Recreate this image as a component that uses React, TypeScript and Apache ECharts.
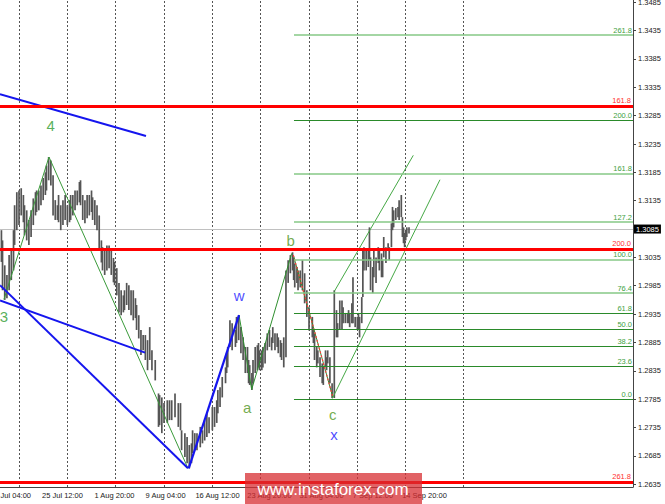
import React, { useEffect, useRef } from 'react';
import * as echarts from 'echarts';

// ---- axes ----
const X_MIN = -17.3;
const X_MAX = 558.9;
const Y_MIN = 1.263;
const Y_MAX = 1.3489;

const xLabels = ['18 Jul 04:00', '25 Jul 12:00', '1 Aug 20:00', '9 Aug 04:00', '16 Aug 12:00', '23 Aug 20:00', '31 Aug 04:00', '7 Sep 12:00', '14 Sep 20:00'];
const xLabelPos = [-7.7, 39.6, 86.9, 133.4, 180.7, 228.0, 275.4, 322.2, 369.1];
const gridPos = [0, 44, 88, 132, 176, 220, 264, 308, 352, 404];
const priceTicks = [1.2635, 1.2685, 1.2735, 1.2785, 1.2835, 1.2885, 1.2935, 1.2985, 1.3035, 1.3085, 1.3135, 1.3185, 1.3235, 1.3285, 1.3335, 1.3385, 1.3435, 1.3485];

// ---- price bars: [bar index (H4), low, high] ----
const bars = [
  [-16, 1.3027, 1.3083], [-15, 1.2977, 1.3065], [-13, 1.296, 1.3021], [-11, 1.2963, 1.3004], [-9, 1.2977, 1.3039],
  [-7, 1.2995, 1.3048], [-5, 1.3012, 1.3083], [-4, 1.3057, 1.3127], [-2, 1.3083, 1.315], [0, 1.3092, 1.3153],
  [2, 1.3109, 1.3157], [4, 1.3097, 1.3145], [5, 1.3074, 1.3127], [7, 1.3065, 1.3118], [9, 1.3057, 1.3101],
  [11, 1.3071, 1.3118], [13, 1.3092, 1.3139], [15, 1.3109, 1.315], [16, 1.3115, 1.3153], [18, 1.3118, 1.3153],
  [20, 1.3127, 1.3162], [22, 1.3136, 1.3175], [24, 1.3145, 1.3185], [25, 1.3153, 1.3197], [27, 1.3171, 1.3212],
  [29, 1.3162, 1.3206], [31, 1.3109, 1.318], [33, 1.3101, 1.3136], [35, 1.3101, 1.3127], [36, 1.3097, 1.3145],
  [38, 1.3083, 1.3127], [40, 1.3092, 1.3136], [42, 1.3101, 1.3145], [44, 1.3092, 1.3127], [46, 1.3097, 1.3136],
  [47, 1.3101, 1.3145], [49, 1.3109, 1.3145], [51, 1.3118, 1.3153], [53, 1.3127, 1.3153], [55, 1.3132, 1.3168],
  [56, 1.3127, 1.3171], [58, 1.3101, 1.3145], [60, 1.3095, 1.3136], [62, 1.3104, 1.3145], [64, 1.3109, 1.3145],
  [66, 1.3115, 1.3153], [67, 1.3101, 1.3141], [69, 1.3092, 1.3136], [71, 1.3083, 1.3127], [73, 1.3048, 1.3109],
  [75, 1.3026, 1.3065], [76, 1.3012, 1.3053], [78, 1.3004, 1.3048], [80, 1.3012, 1.3056], [82, 1.3016, 1.3056],
  [84, 1.3004, 1.3048], [86, 1.2991, 1.3034], [87, 1.2986, 1.3027], [89, 1.2968, 1.3016], [91, 1.2938, 1.299],
  [93, 1.2933, 1.2977], [95, 1.2938, 1.2968], [96, 1.2942, 1.2977], [98, 1.2951, 1.299], [100, 1.2942, 1.2986],
  [102, 1.2933, 1.2977], [104, 1.2924, 1.2977], [106, 1.2928, 1.2963], [107, 1.2907, 1.2951], [109, 1.2892, 1.2933],
  [111, 1.2863, 1.2907], [113, 1.2871, 1.2898], [115, 1.2854, 1.2898], [117, 1.2836, 1.2889], [119, 1.2854, 1.2912],
  [121, 1.2836, 1.2871], [124, 1.2818, 1.2854], [127, 1.2736, 1.2795], [128, 1.2739, 1.2792], [130, 1.2725, 1.2788],
  [132, 1.2743, 1.2778], [135, 1.2743, 1.2783], [137, 1.2748, 1.2783], [139, 1.2748, 1.2783], [142, 1.2753, 1.2795],
  [145, 1.2736, 1.2778], [147, 1.273, 1.2778], [148, 1.2695, 1.273], [151, 1.2683, 1.2725], [153, 1.2672, 1.2718],
  [155, 1.2663, 1.2704], [157, 1.2672, 1.2707], [158, 1.269, 1.273], [160, 1.2695, 1.2725], [162, 1.2695, 1.2725],
  [165, 1.27, 1.2736], [167, 1.2707, 1.273], [169, 1.2712, 1.2748], [171, 1.2718, 1.276], [173, 1.2725, 1.2753],
  [176, 1.273, 1.2771], [178, 1.2736, 1.2771], [180, 1.2743, 1.2783], [181, 1.276, 1.2801], [183, 1.2771, 1.2806],
  [185, 1.2788, 1.2824], [188, 1.2813, 1.2841], [189, 1.2831, 1.2866], [190, 1.2841, 1.2877], [192, 1.2877, 1.2924],
  [194, 1.2871, 1.2919], [197, 1.2877, 1.2907], [198, 1.2884, 1.293], [200, 1.2889, 1.2933], [202, 1.2866, 1.2912],
  [204, 1.2854, 1.2894], [206, 1.2831, 1.2877], [208, 1.2831, 1.2877], [209, 1.2813, 1.2854], [210, 1.281, 1.2845],
  [212, 1.2801, 1.2831], [213, 1.2813, 1.2854], [215, 1.2831, 1.2877], [217, 1.2836, 1.288], [218, 1.2841, 1.2884],
  [219, 1.2836, 1.2871], [221, 1.2836, 1.2871], [222, 1.2841, 1.2877], [224, 1.2848, 1.2884], [226, 1.2871, 1.2901],
  [228, 1.2877, 1.2907], [230, 1.2871, 1.2894], [231, 1.2884, 1.2912], [233, 1.2871, 1.2901], [235, 1.2877, 1.2901],
  [236, 1.2866, 1.2894], [238, 1.2859, 1.2889], [239, 1.2854, 1.2884], [241, 1.2841, 1.2894], [243, 1.2859, 1.3012],
  [245, 1.299, 1.303], [247, 1.3007, 1.3039], [249, 1.3012, 1.3044], [250, 1.2995, 1.3035], [251, 1.2982, 1.3024],
  [253, 1.299, 1.3018], [254, 1.2977, 1.3012], [256, 1.2982, 1.3012], [258, 1.2977, 1.303], [260, 1.2954, 1.3007],
  [262, 1.293, 1.2977], [264, 1.2906, 1.2947], [267, 1.2894, 1.293], [268, 1.2884, 1.2907], [269, 1.2854, 1.2901],
  [271, 1.2841, 1.2877], [272, 1.2848, 1.2871], [274, 1.2824, 1.2859], [276, 1.2813, 1.2848], [277, 1.281, 1.2843],
  [279, 1.2841, 1.2871], [280, 1.2836, 1.2859], [281, 1.2848, 1.2871], [283, 1.2813, 1.2859], [285, 1.2787, 1.2813],
  [287, 1.2787, 1.2977], [289, 1.2894, 1.2942], [290, 1.2894, 1.2919], [292, 1.2907, 1.2959], [294, 1.2907, 1.2959],
  [295, 1.2919, 1.2947], [297, 1.2919, 1.2937], [299, 1.2919, 1.2937], [300, 1.2919, 1.2942], [301, 1.2912, 1.2937],
  [303, 1.2919, 1.2954], [304, 1.2919, 1.3], [306, 1.2912, 1.293], [308, 1.2907, 1.293], [309, 1.2907, 1.2937],
  [310, 1.2894, 1.293], [312, 1.2919, 1.2965], [313, 1.2965, 1.3048], [314, 1.3012, 1.3053], [316, 1.3012, 1.3048],
  [318, 1.3018, 1.3048], [319, 1.303, 1.3088], [320, 1.2977, 1.3035], [322, 1.2972, 1.3018], [323, 1.3, 1.3048],
  [325, 1.299, 1.3035], [327, 1.3025, 1.3053], [328, 1.3012, 1.3048], [330, 1.3, 1.3042], [331, 1.3, 1.303],
  [332, 1.3035, 1.3071], [334, 1.3025, 1.3053], [336, 1.3048, 1.306], [337, 1.303, 1.3053], [339, 1.3053, 1.3095],
  [340, 1.3083, 1.3124], [341, 1.3088, 1.3118], [343, 1.3101, 1.3122], [345, 1.3106, 1.3124], [346, 1.3101, 1.3136],
  [348, 1.3106, 1.3145], [349, 1.3071, 1.3106], [350, 1.306, 1.3088], [351, 1.3053, 1.3078], [352, 1.3065, 1.3083],
  [353, 1.3071, 1.3088], [355, 1.3077, 1.3088],
];

const currentPrice = 1.3085;

// ---- horizontal levels ----
const redLevels = [1.3302, 1.3049, 1.2638];
const redLabels = ['161.8', '200.0', '261.8'];

const fibStart = 250.3;
const fibNames = ['261.8', '200.0', '161.8', '127.2', '100.0', '76.4', '61.8', '50.0', '38.2', '23.6', '0.0'];
const fibPrices = [1.3427, 1.3277, 1.3183, 1.3097, 1.3031, 1.2972, 1.2936, 1.2908, 1.2878, 1.2843, 1.2785];
const fibLight = [true, false, true, true, true, true, false, false, false, false, false];

// ---- wave lines ----
const blueUpper = [[-17.3, 1.3323], [115.6, 1.3249]];
const blueSteep = [[-17.3, 1.2986], [153.8, 1.2663]];
const blueLower = [[-17.3, 1.2959], [114.7, 1.2867]];
const blueW = [[154.5, 1.2663], [200.3, 1.2933]];
const greenWave = [[-13.7, 1.2961], [27.3, 1.3212], [153.8, 1.2663]];
const greenAB = [[200.3, 1.2933], [211.8, 1.2802], [248.2, 1.3042]];
const bcLine = [[249.7, 1.3039], [285.6, 1.2789]];
const channelLower = [[285.2, 1.2786], [383.2, 1.3172]];
const channelUpper = [[287.0, 1.2975], [358.9, 1.3215]];

// ---- wave labels ----
const waveText = ['3', '4', 'w', 'a', 'b', 'c', 'x'];
const waveX = [-13.7, 28.9, 200.5, 207.8, 247.3, 285.6, 286.7];
const waveY = [1.293, 1.3267, 1.2967, 1.2771, 1.3064, 1.2757, 1.2723];
const waveColor = ['#2e9b2e', '#2e9b2e', '#1a1aff', '#4f961c', '#4f961c', '#4f961c', '#1a1aff'];

const FONT = 'Liberation Sans';

function lineSeries(data: number[][], color: string, width: number, type: any = 'solid', z = 4) {
  return {
    type: 'line',
    data,
    showSymbol: false,
    symbol: 'none',
    silent: true,
    clip: true,
    z,
    lineStyle: { color, width, type },
  };
}

export default function App() {
  const ref = useRef<HTMLDivElement>(null);
  useEffect(() => {
    document.body.style.margin = '0';
    const chart = echarts.init(ref.current!, null, { renderer: 'svg' });

    // the current price tag replaces its own axis label
    const priceLabelValues = priceTicks.filter((v) => Math.abs(v - currentPrice) > 1e-6);

    const fibMarks = fibPrices.map((p, i) => [
      {
        coord: [fibStart, p],
        lineStyle: { color: fibLight[i] ? '#86c886' : '#2a8a2a', width: fibLight[i] ? 1.6 : 1, type: 'solid' },
        label: { show: true, position: 'insideEndTop', formatter: fibNames[i], color: '#3f9f3f', fontSize: 7.5, fontFamily: FONT, distance: 1 },
      },
      { coord: [X_MAX, p] },
    ]);

    const option: any = {
      animation: false,
      backgroundColor: '#ffffff',
      grid: { left: 0, right: 32, top: 0, bottom: 17, containLabel: false, outerBoundsMode: 'none' },
      xAxis: {
        type: 'value',
        min: X_MIN,
        max: X_MAX,
        axisLine: { show: true, onZero: false, lineStyle: { color: '#444', width: 1 } },
        axisTick: { show: false },
        splitLine: { show: false },
        axisLabel: {
          customValues: xLabelPos,
          formatter: (v: number) => {
            const i = xLabelPos.findIndex((p) => Math.abs(p - v) < 0.05);
            return i >= 0 ? xLabels[i] : '';
          },
          fontFamily: FONT,
          fontSize: 7.5,
          color: '#222',
          margin: 4,
          hideOverlap: false,
        },
      },
      yAxis: {
        type: 'value',
        position: 'right',
        min: Y_MIN,
        max: Y_MAX,
        axisLine: { show: true, onZero: false, lineStyle: { color: '#444', width: 1 } },
        axisTick: { show: true, customValues: priceTicks, length: 3, lineStyle: { color: '#444' } },
        splitLine: { show: false },
        axisLabel: {
          customValues: priceLabelValues,
          formatter: (v: number) => v.toFixed(4),
          fontFamily: FONT,
          fontSize: 7.5,
          color: '#222',
          margin: 5,
          hideOverlap: false,
        },
      },
      graphic: [
        {
          type: 'rect',
          z: 100,
          shape: { x: 245, y: 473, width: 177, height: 31 },
          style: { fill: 'rgba(215,45,50,0.75)' },
        },
        {
          type: 'text',
          z: 101,
          x: 333,
          y: 489,
          style: {
            text: 'www.instaforex.com',
            fill: '#ffffff',
            fontSize: 17,
            fontFamily: FONT,
            align: 'center',
            verticalAlign: 'middle',
          },
        },
      ],
      series: [
        // grid lines + current price line (background)
        {
          type: 'line',
          data: [[X_MIN, Y_MIN], [X_MAX, Y_MAX]],
          showSymbol: false,
          symbol: 'none',
          lineStyle: { opacity: 0 },
          silent: true,
          z: 1,
          markLine: {
            silent: true,
            symbol: ['none', 'none'],
            precision: 4,
            z: 1,
            animation: false,
            data: [
              ...gridPos.map((v) => ({ xAxis: v, lineStyle: { color: '#555', width: 1, type: [2, 2] }, label: { show: false } })),
              {
                yAxis: currentPrice,
                lineStyle: { color: '#c0c0c0', width: 1, type: 'solid' },
                label: {
                  show: true,
                  position: 'end',
                  formatter: currentPrice.toFixed(4),
                  color: '#ffffff',
                  backgroundColor: '#000000',
                  padding: [1, 2, 0, 2],
                  fontSize: 7.5,
                  fontFamily: FONT,
                  distance: 1,
                },
              },
            ],
          },
        },
        // price bars
        {
          type: 'custom',
          z: 2,
          silent: true,
          data: bars,
          encode: { x: 0, y: [1, 2] },
          renderItem: (params: any, api: any) => {
            const x = api.value(0);
            const lo = api.coord([x, api.value(1)]);
            const hi = api.coord([x, api.value(2)]);
            return {
              type: 'line',
              shape: { x1: lo[0], y1: lo[1], x2: hi[0], y2: hi[1] },
              style: { stroke: '#555555', lineWidth: 1.7 },
            };
          },
        },
        // wave lines
        lineSeries(greenWave, '#3a9a3a', 1),
        lineSeries(greenAB, '#2f8f2f', 1),
        lineSeries(bcLine, '#2f8f2f', 1),
        lineSeries(bcLine, '#ff3b3b', 1.2, [2, 2], 5),
        lineSeries(channelLower, '#45a845', 1),
        lineSeries(channelUpper, '#45a845', 1),
        lineSeries(blueUpper, '#1515ee', 2),
        lineSeries(blueSteep, '#1515ee', 2),
        lineSeries(blueLower, '#1515ee', 2),
        lineSeries(blueW, '#1515ee', 2.2),
        // fib and red levels
        {
          type: 'line',
          data: [[X_MIN, Y_MIN], [X_MAX, Y_MAX]],
          showSymbol: false,
          symbol: 'none',
          lineStyle: { opacity: 0 },
          silent: true,
          z: 6,
          markLine: {
            silent: true,
            symbol: ['none', 'none'],
            precision: 4,
            animation: false,
            z: 6,
            data: [
              ...fibMarks,
              ...redLevels.map((v, i) => ({
                yAxis: v,
                lineStyle: { color: '#ff0000', width: 3, type: 'solid' },
                label: { show: true, position: 'insideEndTop', formatter: redLabels[i], color: '#ff3030', fontSize: 7.5, fontFamily: FONT, distance: 2 },
              })),
            ],
          },
        },
        // wave labels
        {
          type: 'scatter',
          z: 10,
          silent: true,
          symbolSize: 1,
          itemStyle: { color: 'transparent' },
          data: waveText.map((t, i) => ({
            value: [waveX[i], waveY[i]],
            label: { show: true, position: 'inside', formatter: t, color: waveColor[i], fontSize: 15, fontFamily: FONT },
          })),
        },
      ],
    };
    chart.setOption(option);
    return () => chart.dispose();
  }, []);
  return <div ref={ref} style={{ width: 665, height: 504 }} />;
}
